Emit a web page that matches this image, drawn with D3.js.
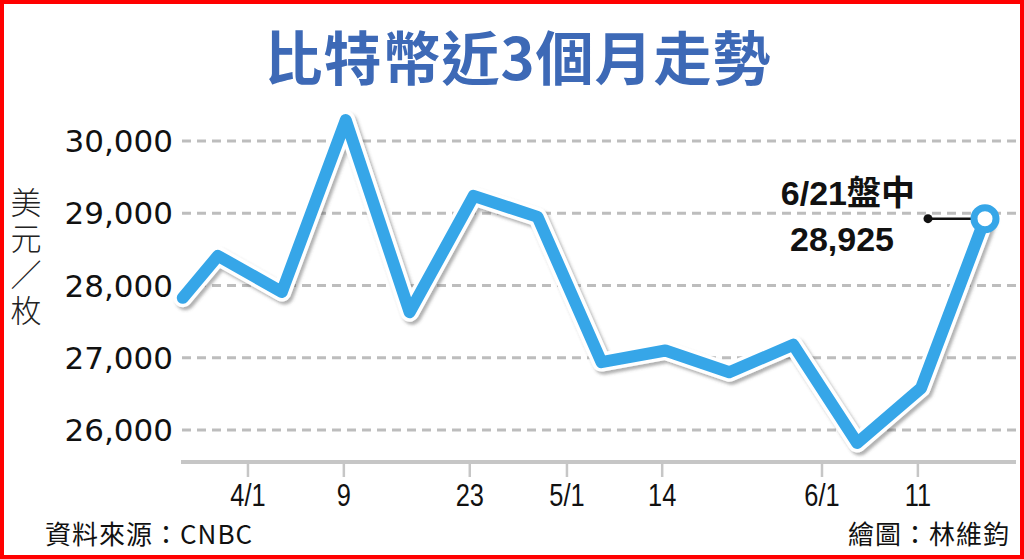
<!DOCTYPE html>
<html>
<head>
<meta charset="utf-8">
<script src="https://cdn.jsdelivr.net/npm/d3@7"></script>
<style>
  html, body { margin: 0; padding: 0; background: #fff; }
  svg { display: block; }
</style>
</head>
<body>
<div id="graphic"></div>
<script>
// weekly prices (USD per coin); last one is intraday 6/21
const prices = [27830, 28410, 27910, 30290, 27630, 29240, 28950,
                26940, 27100, 26800, 27180, 25820, 26580, 28925];
// position of each observation in weeks (first one is a partial week)
const weekPos = [0.45, 1, 2, 3, 4, 5, 6, 7, 8, 9, 10, 11, 12, 13];
const yTicks = [26000, 27000, 28000, 29000, 30000];
// date labels and where they sit on the week axis
const xTickLabels = ["4/1", "9", "23", "5/1", "14", "6/1", "11"];
const xTickPos = [1.47, 2.97, 4.94, 6.46, 7.95, 10.45, 11.95];
const yTitle = "美元／枚";

const W = 1024, H = 559;
const plotLeft = 182, plotRight = 1016;

const svg = d3.select("#graphic")
    .append("svg")
    .attr("width", W)
    .attr("height", H);

// red frame
svg.append("rect")
    .attr("x", 2).attr("y", 2)
    .attr("width", W - 4).attr("height", H - 4)
    .attr("fill", "#fff")
    .attr("stroke", "#f00")
    .attr("stroke-width", 4);

const x = d3.scaleLinear()
    .domain([0, 13])
    .range([154, 985]);

const y = d3.scaleLinear()
    .domain([26000, 30000])
    .range([430, 141]);

// title
svg.append("text")
    .attr("x", 518).attr("y", 80)
    .attr("text-anchor", "middle")
    .style("font-family", "'Noto Sans CJK TC', sans-serif")
    .style("font-weight", "bold")
    .style("font-size", "58px")
    .style("letter-spacing", "1px")
    .style("fill", "#3d69b6")
    .text("比特幣近3個月走勢");

// dashed gridlines
svg.append("g")
    .selectAll("line")
    .data(yTicks)
    .join("line")
    .attr("x1", plotLeft).attr("x2", plotRight)
    .attr("y1", d => y(d)).attr("y2", d => y(d))
    .attr("stroke", "#bdbdbd")
    .attr("stroke-width", 3)
    .attr("stroke-dasharray", "9,6");

// y labels
svg.append("g")
    .selectAll("text")
    .data(yTicks)
    .join("text")
    .attr("x", 173)
    .attr("y", d => y(d))
    .attr("dy", "0.36em")
    .attr("text-anchor", "end")
    .style("font-family", "'DejaVu Sans', sans-serif")
    .style("font-size", "31px")
    .style("fill", "#111")
    .text(d => d3.format(",")(d));

// y title, written vertically
svg.append("text")
    .attr("x", 26).attr("y", 187)
    .style("writing-mode", "vertical-rl")
    .style("font-family", "'Noto Sans CJK TC', sans-serif")
    .style("font-weight", 300)
    .style("font-size", "31px")
    .style("letter-spacing", "5px")
    .style("fill", "#222")
    .text(yTitle);

// x axis line + ticks
const axisY = 462;
svg.append("line")
    .attr("x1", plotLeft - 1).attr("x2", plotRight)
    .attr("y1", axisY).attr("y2", axisY)
    .attr("stroke", "#c6c6c6")
    .attr("stroke-width", 4);

const xt = svg.append("g")
    .selectAll("g")
    .data(xTickLabels)
    .join("g")
    .attr("transform", (d, i) => `translate(${x(xTickPos[i])},0)`);

xt.append("line")
    .attr("y1", axisY + 2).attr("y2", axisY + 15)
    .attr("stroke", "#c6c6c6")
    .attr("stroke-width", 2.5);

xt.append("text")
    .attr("transform", "translate(0,506) scale(0.82,1)")
    .attr("text-anchor", "middle")
    .style("font-family", "'Liberation Sans', sans-serif")
    .style("font-size", "31px")
    .style("fill", "#111")
    .text(d => d);

// line with white outline and soft shadow
const defs = svg.append("defs");
const f = defs.append("filter").attr("id", "shadow")
    .attr("x", "-10%").attr("y", "-10%").attr("width", "120%").attr("height", "120%");
f.append("feDropShadow")
    .attr("dx", 2.5).attr("dy", 3)
    .attr("stdDeviation", 1.5)
    .attr("flood-color", "#555")
    .attr("flood-opacity", 0.45);

const line = d3.line()
    .x((d, i) => x(weekPos[i]))
    .y(d => y(d));

svg.append("path")
    .datum(prices)
    .attr("d", line)
    .attr("fill", "none")
    .attr("stroke", "#fff")
    .attr("stroke-width", 19)
    .attr("stroke-linejoin", "round")
    .attr("stroke-linecap", "round")
    .attr("filter", "url(#shadow)");

svg.append("path")
    .datum(prices)
    .attr("d", line)
    .attr("fill", "none")
    .attr("stroke", "#36a6e8")
    .attr("stroke-width", 12)
    .attr("stroke-linejoin", "round")
    .attr("stroke-linecap", "round");

// last point annotation
const last = prices.length - 1;
const lx = x(weekPos[last]), ly = y(prices[last]);

svg.append("line")
    .attr("x1", lx - 57).attr("x2", lx - 10)
    .attr("y1", ly).attr("y2", ly)
    .attr("stroke", "#111")
    .attr("stroke-width", 2.5);

svg.append("circle")
    .attr("cx", lx - 57).attr("cy", ly)
    .attr("r", 4.5)
    .attr("fill", "#111");

svg.append("circle")
    .attr("cx", lx).attr("cy", ly)
    .attr("r", 11)
    .attr("fill", "#fff")
    .attr("stroke", "#36a6e8")
    .attr("stroke-width", 7);

svg.append("text")
    .attr("x", 915).attr("y", 205)
    .attr("text-anchor", "end")
    .style("font-family", "'Liberation Sans', 'Noto Sans CJK TC', sans-serif")
    .style("font-weight", "bold")
    .style("font-size", "34px")
    .style("fill", "#111")
    .text("6/21盤中");

svg.append("text")
    .attr("x", 842).attr("y", 251)
    .attr("text-anchor", "middle")
    .style("font-family", "'Liberation Sans', sans-serif")
    .style("font-weight", "bold")
    .style("font-size", "34px")
    .style("fill", "#111")
    .text(d3.format(",")(prices[last]));

// source and credit
svg.append("text")
    .attr("x", 45).attr("y", 544)
    .style("font-family", "'Noto Sans CJK TC', sans-serif")
    .style("font-size", "26px")
    .style("letter-spacing", "1px")
    .style("fill", "#111")
    .text("資料來源：CNBC");

svg.append("text")
    .attr("x", 1010).attr("y", 544)
    .attr("text-anchor", "end")
    .style("font-family", "'Noto Sans CJK TC', sans-serif")
    .style("font-size", "26px")
    .style("letter-spacing", "1px")
    .style("fill", "#111")
    .text("繪圖：林維鈞");
</script>
</body>
</html>
